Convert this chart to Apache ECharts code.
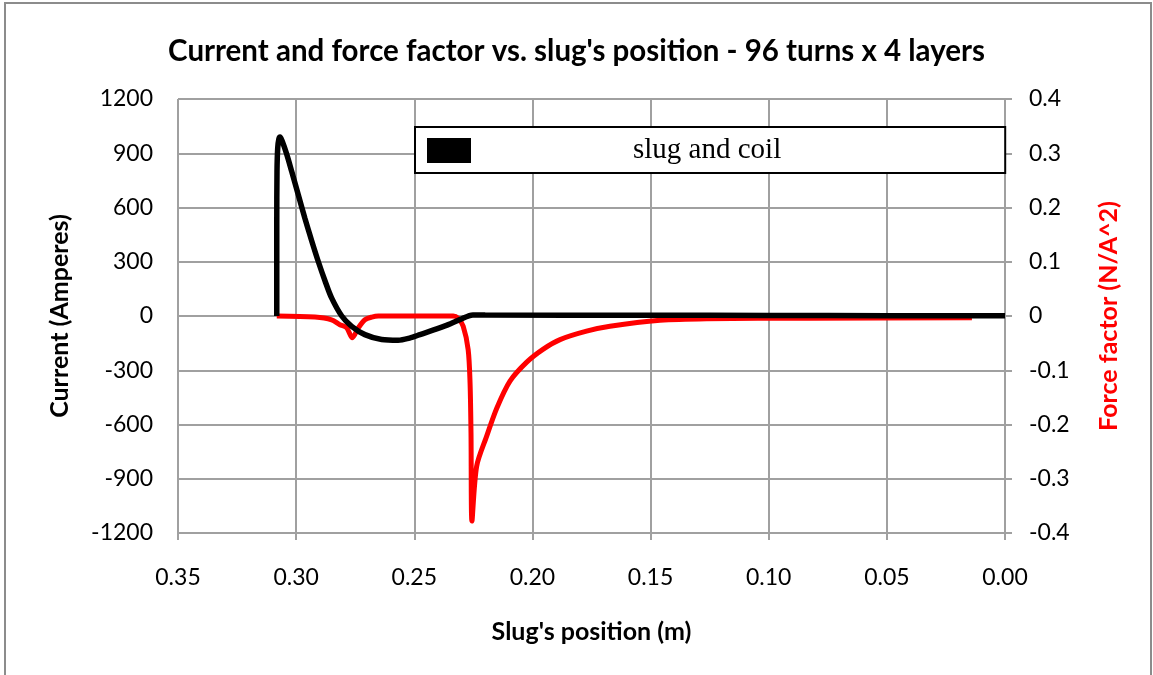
<!DOCTYPE html>
<html>
<head>
<meta charset="utf-8">
<script src="https://cdn.jsdelivr.net/npm/echarts@6/dist/echarts.min.js"></script>
<style>
  html, body { margin: 0; padding: 0; background: #fff; }
  #chart { width: 1153px; height: 675px; }
</style>
</head>
<body>
<div id="chart"></div>
<script>
// slug position (m) and coil current (A)
var currentPos = [0.3082, 0.3082, 0.3081, 0.3078, 0.3073, 0.3068, 0.3060, 0.3040, 0.3019, 0.2991,
  0.2963, 0.2934, 0.2906, 0.2878, 0.2850, 0.2807, 0.2765, 0.2709, 0.2638, 0.2568,
  0.2520, 0.2476, 0.2370, 0.2307, 0.2252, 0.2200, 0.1500, 0.1000, 0.0500, 0.0000];
var currentAmps = [0, 500, 800, 930, 980, 990, 970, 895, 800, 670,
  540, 415, 300, 195, 100, 0, -57, -103, -130, -134,
  -122, -103, -55, -20, 6, 5, 4, 3, 2, 1];

// slug position (m) and force factor (N/A^2)
var forcePos = [0.3082, 0.2920, 0.2850, 0.2815, 0.2787, 0.2762, 0.2737, 0.2709, 0.2680, 0.2652,
  0.2335, 0.2315, 0.2293, 0.2272, 0.2264, 0.2260, 0.2256, 0.2236, 0.2194, 0.2151,
  0.2095, 0.2024, 0.1954, 0.1883, 0.1771, 0.1672, 0.1460, 0.1263, 0.0830, 0.0140];
var forceFactor = [0, -0.002, -0.007, -0.016, -0.021, -0.04, -0.022, -0.007, -0.002, 0,
  0, -0.004, -0.019, -0.062, -0.123, -0.215, -0.378, -0.277, -0.222, -0.170,
  -0.120, -0.085, -0.061, -0.0435, -0.028, -0.019, -0.008, -0.005, -0.004, -0.003];

var xTicks = { min: 0, max: 0.35, interval: 0.05 };
var leftTicks = { min: -1200, max: 1200, interval: 300 };
var rightTicks = { min: -0.4, max: 0.4, interval: 0.1 };

function zip(xs, ys) {
  return xs.map(function (x, i) { return [x, ys[i]]; });
}

var myChart = echarts.init(document.getElementById('chart'));
var grey = '#a0a0a0';
var font = 'Lato';

var option = {
  backgroundColor: '#fff',
  animation: false,
  title: {
    text: "Current and force factor vs. slug's position - 96 turns x 4 layers",
    left: 'center',
    top: 31,
    textStyle: { fontFamily: font, fontWeight: 'bold', fontSize: 29.5, color: '#000' }
  },
  legend: {
    data: ['slug and coil'],
    left: 415,
    top: 127,
    orient: 'horizontal',
    icon: 'rect',
    itemWidth: 44,
    itemHeight: 25,
    padding: [9, 224, 8, 12],
    backgroundColor: '#fff',
    borderColor: '#000',
    borderWidth: 2,
    borderRadius: 0,
    formatter: '{t|{name}}',
    textStyle: {
      rich: {
        t: { fontFamily: 'Liberation Serif', fontSize: 29, color: '#000', padding: [0, 0, 0, 157] }
      }
    }
  },
  graphic: [{
    type: 'rect',
    shape: { x: 5, y: 3, width: 1146, height: 700 },
    style: { fill: 'none', stroke: '#8c8c8c', lineWidth: 2 },
    z: -10,
    silent: true
  }],
  grid: { left: 178, right: 148, top: 99, bottom: 142 },
  xAxis: {
    type: 'value',
    inverse: true,
    min: xTicks.min,
    max: xTicks.max,
    interval: xTicks.interval,
    name: "Slug's position (m)",
    nameLocation: 'middle',
    nameGap: 86,
    nameTextStyle: { fontFamily: font, fontWeight: 'bold', fontSize: 25, color: '#000' },
    axisLine: { onZero: false, lineStyle: { color: grey, width: 2 } },
    axisTick: { length: 7, lineStyle: { color: grey, width: 2 } },
    axisLabel: {
      margin: 33,
      fontFamily: font, fontSize: 23, color: '#000',
      formatter: function (v) { return v.toFixed(2); }
    },
    splitLine: { show: true, lineStyle: { color: grey, width: 2 } }
  },
  yAxis: [{
    type: 'value',
    position: 'left',
    min: leftTicks.min,
    max: leftTicks.max,
    interval: leftTicks.interval,
    name: 'Current (Amperes)',
    nameLocation: 'middle',
    nameGap: 106,
    nameTextStyle: { fontFamily: font, fontWeight: 'bold', fontSize: 25, color: '#000' },
    axisLine: { show: true, lineStyle: { color: grey, width: 2 } },
    axisTick: { show: true, length: 7, lineStyle: { color: grey, width: 2 } },
    axisLabel: {
      margin: 25, fontFamily: font, fontSize: 23, color: '#000',
      formatter: function (v) { return String(v); }
    },
    splitLine: { show: true, lineStyle: { color: grey, width: 2 } }
  }, {
    type: 'value',
    position: 'right',
    min: rightTicks.min,
    max: rightTicks.max,
    interval: rightTicks.interval,
    name: 'Force factor (N/A^2)',
    nameLocation: 'middle',
    nameGap: 91,
    nameRotate: 90,
    nameTextStyle: { fontFamily: font, fontWeight: 'bold', fontSize: 25, color: '#ff0000' },
    axisLine: { show: true, lineStyle: { color: grey, width: 2 } },
    axisTick: { show: true, length: 7, lineStyle: { color: grey, width: 2 } },
    axisLabel: {
      margin: 24, fontFamily: font, fontSize: 23, color: '#000',
      formatter: function (v) { return String(parseFloat(v.toFixed(1))); }
    },
    splitLine: { show: false }
  }],
  series: [{
    name: 'force factor',
    type: 'line',
    yAxisIndex: 1,
    data: zip(forcePos, forceFactor),
    showSymbol: false,
    smooth: 0.3,
    lineStyle: { color: '#ff0000', width: 5 },
    z: 2
  }, {
    name: 'slug and coil',
    type: 'line',
    yAxisIndex: 0,
    data: zip(currentPos, currentAmps),
    showSymbol: false,
    smooth: 0.3,
    lineStyle: { color: '#000', width: 5.5 },
    itemStyle: { color: '#000' },
    z: 3
  }]
};
myChart.setOption(option);
</script>
</body>
</html>
